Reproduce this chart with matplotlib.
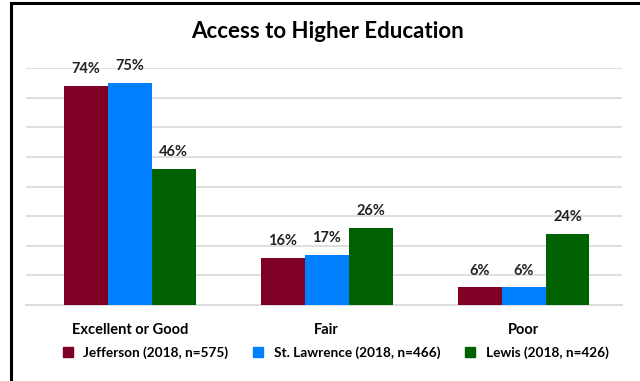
import matplotlib.pyplot as plt
import numpy as np
from matplotlib.lines import Line2D

categories = ['Excellent or Good', 'Fair', 'Poor']
series_names = ['Jefferson (2018, n=575)', 'St. Lawrence (2018, n=466)', 'Lewis (2018, n=426)']
jefferson = [74, 16, 6]
st_lawrence = [75, 17, 6]
lewis = [46, 26, 24]
colors = ['#7F0025', '#0080FF', '#006100']

plt.rcParams['font.family'] = ['Lato', 'DejaVu Sans']

fig = plt.figure(figsize=(6.4, 3.81), dpi=100)
ax = fig.add_axes([26 / 640, 1 - 305 / 381, (622 - 26) / 640, (305 - 68) / 381])

x = np.arange(len(categories))
width = 0.223
for i, (vals, name, c) in enumerate(zip([jefferson, st_lawrence, lewis], series_names, colors)):
    pos = x + (i - 1) * width
    ax.bar(pos, vals, width, color=c, label=name, zorder=3)
    for xp, v in zip(pos, vals):
        ax.text(xp, v + 3.2, f'{v}%', ha='center', va='bottom',
                fontsize=10.5, fontweight='bold', color='#222222')

ax.set_xlim(-0.528, 2.5)
ax.set_ylim(0, 80)
ax.set_yticks(np.arange(0, 81, 10))
ax.set_yticklabels([])
ax.tick_params(axis='y', length=0)
ax.tick_params(axis='x', length=0, pad=13)
ax.set_xticks(x)
ax.set_xticklabels(categories, fontsize=10.5, fontweight='bold')
ax.grid(axis='y', color='#d9d9d9', linewidth=1.2, zorder=0)
for s in ['top', 'right', 'left']:
    ax.spines[s].set_visible(False)
ax.spines['bottom'].set_color('#d9d9d9')
ax.spines['bottom'].set_linewidth(1.2)

fig.text(0.511, 1 - 32 / 381, 'Access to Higher Education', ha='center', va='center',
         fontsize=16, fontweight='bold')

handles = [Line2D([], [], marker='s', linestyle='none', markersize=7,
                  markerfacecolor=c, markeredgecolor=c) for c in colors]
fig.legend(handles, series_names, loc='center', bbox_to_anchor=(0.518, 1 - 353 / 381),
           ncol=3, frameon=False, handletextpad=0.15, columnspacing=1.2,
           prop={'weight': 'bold', 'size': 9.8})

# border lines at top and left
fig.add_artist(Line2D([11 / 640, 1], [1 - 3 / 381, 1 - 3 / 381], color='black', linewidth=2.2,
                      transform=fig.transFigure))
fig.add_artist(Line2D([11 / 640, 11 / 640], [0, 1 - 3 / 381], color='black', linewidth=2.2,
                      transform=fig.transFigure))

fig.savefig('out.png', dpi=100, facecolor='white')
